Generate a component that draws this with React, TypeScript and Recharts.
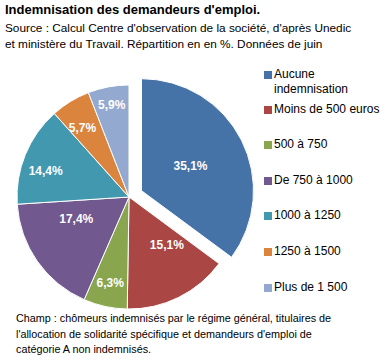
import React from 'react';
import { PieChart, Pie, Cell, Legend } from 'recharts';

const categories = ['Aucune indemnisation', 'Moins de 500 euros', '500 à 750', 'De 750 à 1000', '1000 à 1250', '1250 à 1500', 'Plus de 1 500'];
const values = [35.1, 15.1, 6.3, 17.4, 14.4, 5.7, 5.9];
const COLORS = ['#4572A7', '#AA4643', '#89A54E', '#71588F', '#4198AF', '#DB843D', '#93A9CF'];

const title = "Indemnisation des demandeurs d'emploi.";
const subtitle1 = "Source : Calcul Centre d'observation de la société, d'après Unedic";
const subtitle2 = "et ministère du Travail. Répartition en en %. Données de juin";
const footer = [
  'Champ : chômeurs indemnisés par le régime général, titulaires de',
  "l'allocation de solidarité spécifique et demandeurs d'emploi de",
  'catégorie A non indemnisés.',
];

const data = categories.map((name, i) => ({ name, value: values[i] }));

// label placement tweaks (radius fraction, angle shift in degrees)
const LABEL_R = [0.49, 0.545, 0.79, 0.51, 0.78, 0.74, 0.835];
const LABEL_SHIFT = [0, 12, 0, -12.5, 4.7, 2.6, 0];

const CX = 124;
const CY = 192;
const R = 112;
const EXPLODE = 14;
const RAD = Math.PI / 180;

const total = values.reduce((a, b) => a + b, 0);
const firstMid = 90 - (values[0] / total) * 360 / 2;
const ex = CX + EXPLODE * Math.cos(firstMid * RAD);
const ey = CY - EXPLODE * Math.sin(firstMid * RAD);

const fmt = (v: number) => v.toFixed(1).replace('.', ',') + '%';

const makeLabel = (onlyFirst: boolean) => (props: any) => {
  const { cx, cy, midAngle, outerRadius, index } = props;
  if (onlyFirst ? index !== 0 : index === 0) return null;
  const a = (midAngle + LABEL_SHIFT[index]) * RAD;
  const r = outerRadius * LABEL_R[index];
  const x = cx + r * Math.cos(a);
  const y = cy - r * Math.sin(a);
  return (
    <text
      key={`l-${index}`}
      x={x}
      y={y}
      fill="#fff"
      textAnchor="middle"
      dominantBaseline="central"
      fontSize={12}
      fontWeight="bold"
      fontFamily="'Liberation Sans', Arial, sans-serif"
    >
      {fmt(values[index])}
    </text>
  );
};

const LEGEND_TOPS = [67, 102, 137, 172.5, 208, 244, 280];

const LegendContent = () => (
  <div style={{ position: 'relative', width: 120, height: 240 }}>
    {categories.map((c, i) => (
      <div
        key={c}
        style={{
          position: 'absolute',
          left: 0,
          top: LEGEND_TOPS[i] - 60,
          display: 'flex',
          alignItems: 'flex-start',
          fontSize: 12,
          lineHeight: '15px',
          color: '#000',
          fontFamily: "'Liberation Sans', Arial, sans-serif",
          width: 120,
        }}
      >
        <span style={{ display: 'inline-block', width: 8, height: 8, background: COLORS[i], marginTop: 4, marginRight: 2, flexShrink: 0 }} />
        <span style={{ width: i === 0 ? 90 : 115 }}>{c}</span>
      </div>
    ))}
  </div>
);

export default function App() {
  const font = "'Liberation Sans', Arial, sans-serif";
  return (
    <div style={{ position: 'fixed', left: 0, top: 0, width: 385, height: 361, background: '#fff', fontFamily: font }}>
      <div style={{ position: 'absolute', left: 5, top: 2, fontSize: 13, fontWeight: 'bold', lineHeight: '16px', whiteSpace: 'nowrap' }}>{title}</div>
      <div style={{ position: 'absolute', left: 5, top: 20, fontSize: 11.8, lineHeight: '16px', whiteSpace: 'nowrap' }}>
        <div>{subtitle1}</div>
        <div>{subtitle2}</div>
      </div>
      <div style={{ position: 'absolute', left: 0, top: 0 }}>
        <PieChart width={385} height={361}>
          <Pie
            data={data}
            dataKey="value"
            nameKey="name"
            cx={CX}
            cy={CY}
            outerRadius={R}
            startAngle={90}
            endAngle={-270}
            stroke="#fff"
            strokeWidth={1}
            isAnimationActive={false}
            label={makeLabel(false)}
            labelLine={false}
          >
            {data.map((d, i) => (
              <Cell key={d.name} fill={i === 0 ? 'none' : COLORS[i]} stroke={i === 0 ? 'none' : '#fff'} />
            ))}
          </Pie>
          <Pie
            data={data}
            dataKey="value"
            nameKey="name"
            cx={ex}
            cy={ey}
            outerRadius={R}
            startAngle={90}
            endAngle={-270}
            isAnimationActive={false}
            label={makeLabel(true)}
            labelLine={false}
          >
            {data.map((d, i) => (
              <Cell key={d.name} fill={i === 0 ? COLORS[0] : 'none'} stroke={i === 0 ? '#fff' : 'none'} />
            ))}
          </Pie>
          <Legend
            layout="vertical"
            verticalAlign="top"
            align="right"
            content={<LegendContent />}
            wrapperStyle={{ position: 'absolute', left: 264, top: 60, width: 120 }}
          />
        </PieChart>
      </div>
      <div style={{ position: 'absolute', left: 16, top: 311, fontSize: 10.8, lineHeight: '15.5px', whiteSpace: 'nowrap' }}>
        {footer.map((f) => (
          <div key={f}>{f}</div>
        ))}
      </div>
    </div>
  );
}
